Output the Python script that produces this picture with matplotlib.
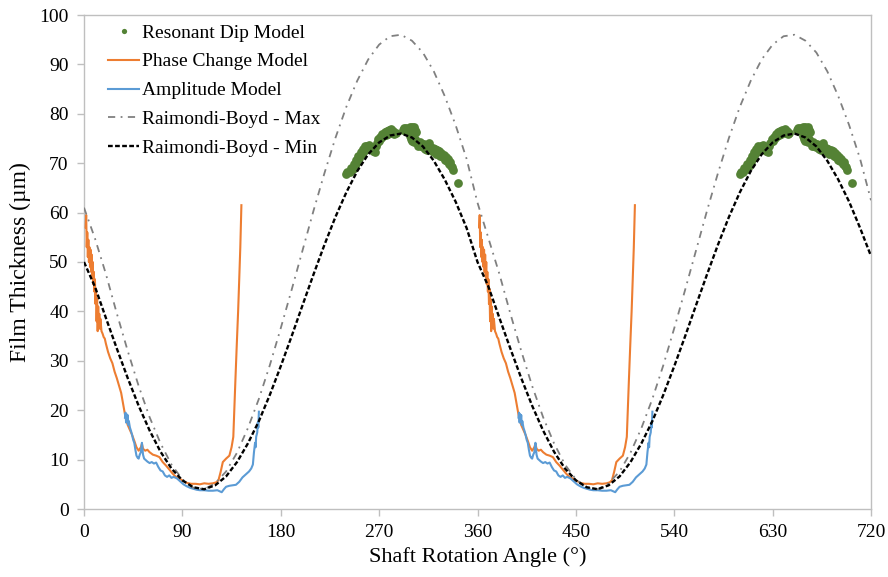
"""
Film thickness over two shaft revolutions: ultrasonic models vs Raimondi-Boyd.
"""

import matplotlib
matplotlib.use("Agg")
import matplotlib.pyplot as plt

plt.rcParams["font.family"] = ["Liberation Serif", "DejaVu Serif"]

# Raimondi-Boyd bounds, read every 10 degrees
rb_angle = list(range(0, 730, 10))
rb_min = [
    50.0, 45.0, 38.7, 32.5, 26.5, 20.9, 15.9, 11.6, 8.2, 5.8, 4.4, 4.0,
    4.8, 6.6, 9.5, 13.3, 17.8, 23.1, 28.9, 35.0, 41.3, 47.5, 53.5, 59.1,
    64.1, 68.4, 71.8, 74.2, 75.6, 76.0, 75.2, 73.4, 70.5, 66.7, 62.2, 56.9,
    50.0, 45.0, 38.7, 32.5, 26.5, 20.9, 15.9, 11.6, 8.2, 5.8, 4.4, 4.0,
    4.8, 6.6, 9.5, 13.3, 17.8, 23.1, 28.9, 35.0, 41.3, 47.5, 53.5, 59.1,
    64.1, 68.4, 71.8, 74.2, 75.6, 76.0, 75.2, 73.4, 70.5, 66.7, 62.2, 56.9,
    51.2,
]
rb_max = [
    61.0, 54.8, 47.6, 39.6, 32.0, 24.9, 18.6, 13.3, 9.0, 6.0, 4.3, 4.0,
    5.2, 7.6, 11.4, 16.4, 22.3, 29.1, 36.6, 44.4, 52.4, 60.4, 68.0, 75.1,
    81.4, 86.7, 91.0, 94.0, 95.7, 96.0, 94.8, 92.4, 88.6, 83.6, 77.7, 70.9,
    62.0, 54.8, 47.6, 39.6, 32.0, 24.9, 18.6, 13.3, 9.0, 6.0, 4.3, 4.0,
    5.2, 7.6, 11.4, 16.4, 22.3, 29.1, 36.6, 44.4, 52.4, 60.4, 68.0, 75.1,
    81.4, 86.7, 91.0, 94.0, 95.7, 96.0, 94.8, 92.4, 88.6, 83.6, 77.7, 70.9,
    62.5,
]

# Phase change model (one revolution, repeated in the second)
phase_angle = [
    1.5, 2.0, 2.5, 3.0, 3.5, 4.0, 4.5, 5.0, 5.5, 6.0, 6.5, 7.0, 7.5, 8.0,
    8.5, 9.0, 9.5, 10.0, 10.5, 11.0, 11.5, 12.0, 12.5, 13.0, 13.5, 14.0,
    14.5, 15.0, 16, 17, 18, 19, 20, 22, 24, 26, 28, 30, 32, 34, 36, 38, 40,
    42, 44, 46, 48, 50, 52, 53, 54, 56, 58, 60, 63, 66, 69, 72, 75, 78, 81,
    84, 87, 90, 94, 98, 102, 106, 110, 114, 118, 121, 123, 125, 127, 130,
    133, 135, 136.6, 137.5, 138.5, 139.7, 141, 142, 143, 144,
]
phase_film = [
    57.0, 59.5, 53.0, 56.0, 51.0, 54.5, 50.0, 53.0, 49.0, 52.5, 48.0, 51.5,
    47.0, 50.0, 45.5, 48.0, 44.0, 46.5, 41.5, 44.5, 38.0, 42.5, 36.0, 41.0,
    37.0, 39.5, 36.5, 38.5, 36.0, 35.5, 34.8, 34.5, 33.5, 31.8, 30.5, 29.5,
    27.8, 26.5, 25.0, 23.5, 21.0, 18.5, 17.0, 16.0, 15.0, 13.8, 12.5, 11.8,
    12.5, 13.2, 12.2, 11.8, 12.0, 11.5, 11.0, 10.8, 10.5, 9.5, 8.8, 8.0,
    7.2, 6.5, 6.2, 5.8, 5.3, 5.1, 5.1, 5.0, 5.2, 5.1, 5.2, 5.4, 5.8, 7.5,
    9.5, 10.2, 10.8, 12.5, 14.6, 20.0, 26.0, 32.9, 40.0, 46.4, 53.0, 61.5,
]

# Amplitude model
amp_angle = [
    37.5, 38.0, 38.5, 39.0, 39.5, 40.0, 40.5, 41, 42, 43, 44, 45, 46, 47,
    48, 49, 50, 51, 52, 53, 54, 55, 56, 58, 60, 62, 64, 66, 68, 70, 72, 74,
    76, 78, 80, 82, 85, 88, 91, 94, 97, 100, 103, 106, 110, 114, 118, 122,
    124, 126, 128, 130, 133, 136, 139, 142, 145, 148, 151, 153, 154.5,
    155.5, 156.5, 157, 157.5, 158.5, 159, 159.5, 160,
]
amp_film = [
    18.5, 19.5, 17.5, 19.2, 17.8, 19.0, 17.0, 17.8, 16.5, 15.8, 15.0, 14.0,
    13.4, 12.0, 10.8, 10.4, 10.2, 11.0, 11.5, 13.4, 11.0, 10.2, 10.0, 9.6,
    9.3, 9.5, 9.2, 9.4, 8.5, 7.8, 7.6, 6.8, 6.5, 6.8, 6.3, 6.5, 6.2, 5.6,
    5.0, 4.6, 4.3, 4.1, 3.9, 3.8, 3.8, 3.7, 3.7, 3.8, 3.6, 3.4, 4.0, 4.5,
    4.7, 4.8, 4.9, 5.5, 6.4, 7.0, 7.6, 8.2, 9.0, 11.5, 13.4, 12.5, 14.6,
    15.5, 17.5, 16.5, 19.7,
]

# Resonant dip model points (one revolution)
dip_angle = [
    240, 241, 243, 244, 246, 247, 248, 249, 250, 251, 252, 253, 254, 255,
    256, 257, 258, 259, 260, 261, 262, 263, 264, 265, 266, 267, 268, 269,
    270, 271, 272, 273, 274, 275, 276, 277, 278, 279, 280, 281, 282, 283,
    284, 285, 292, 293, 294, 295, 296, 297, 298, 299, 300, 301, 302, 303,
    304, 298, 299, 300, 301, 302, 303, 305, 306, 307, 308, 309, 310, 311,
    312, 313, 314, 315, 316, 317, 318, 319, 320, 321, 322, 323, 324, 325,
    326, 327, 328, 329, 330, 331, 332, 333, 334, 335, 336, 337, 338, 342.4,
]
dip_film = [
    67.8, 68.3, 68.2, 69.0, 68.8, 69.8, 69.4, 70.6, 70.2, 71.5, 71.0, 72.3,
    71.8, 72.9, 72.4, 73.4, 72.8, 73.5, 73.1, 73.6, 72.9, 73.3, 72.4, 72.8,
    72.3, 73.4, 74.0, 74.8, 74.5, 75.4, 75.0, 75.9, 75.5, 76.3, 75.8, 76.6,
    76.0, 76.8, 76.3, 76.9, 76.1, 76.6, 75.9, 76.2, 76.8, 77.1, 76.7, 77.2,
    76.6, 77.0, 77.3, 76.9, 77.4, 77.1, 77.3, 76.7, 76.4, 75.6, 74.9, 74.4,
    75.1, 74.2, 74.8, 74.0, 73.5, 74.3, 73.4, 73.9, 73.2, 73.8, 72.9, 73.6,
    72.7, 73.3, 74.0, 73.2, 72.5, 73.1, 72.2, 72.9, 71.9, 72.6, 71.8, 72.4,
    71.4, 72.1, 71.2, 71.7, 70.7, 71.3, 70.4, 70.8, 69.9, 70.2, 69.4, 69.3,
    68.6, 65.9,
]

PERIOD = 360
COLORS = {
    "dip": "#548235",
    "phase": "#ED7D31",
    "amp": "#5B9BD5",
    "rb_max": "#808080",
    "rb_min": "#000000",
}


def shifted(angles, offset):
    return [a + offset for a in angles]


fig = plt.figure(figsize=(8.88, 5.77), dpi=100)
ax = fig.add_axes([84 / 888, 1 - 509 / 577, 787 / 888, 494 / 577])

for rev in range(2):
    off = rev * PERIOD
    ax.plot(shifted(dip_angle, off), dip_film, "o", ms=6.3,
            color=COLORS["dip"], mec="none", zorder=2,
            label="Resonant Dip Model" if rev == 0 else None)
    ax.plot(shifted(phase_angle, off), phase_film,
            color=COLORS["phase"], lw=1.5, zorder=3,
            label="Phase Change Model" if rev == 0 else None)
    ax.plot(shifted(amp_angle, off), amp_film,
            color=COLORS["amp"], lw=1.5, zorder=4,
            label="Amplitude Model" if rev == 0 else None)

ax.plot(rb_angle, rb_max, color=COLORS["rb_max"], lw=1.3,
        linestyle=(0, (4, 3, 1, 3)), zorder=5, label="Raimondi-Boyd - Max")
ax.plot(rb_angle, rb_min, color=COLORS["rb_min"], lw=1.7,
        linestyle=(0, (2, 1)), zorder=6, label="Raimondi-Boyd - Min")

ax.set_xlim(0, 720)
ax.set_ylim(0, 100)
ax.set_xticks(range(0, 721, 90))
ax.set_yticks(range(0, 101, 10))
ax.tick_params(direction="out", length=5, width=1, color="#BFBFBF",
               labelsize=14, pad=6)
for spine in ax.spines.values():
    spine.set_color("#BFBFBF")
    spine.set_linewidth(1)

ax.set_xlabel("Shaft Rotation Angle (°)", fontsize=16, labelpad=4)
ax.set_ylabel("Film Thickness (µm)", fontsize=17, labelpad=6)

ax.legend(loc="upper left", bbox_to_anchor=(108 / 888, 1 - 24 / 577),
          bbox_transform=fig.transFigure, frameon=False, fontsize=14,
          borderpad=0, borderaxespad=0, handlelength=1.6, handletextpad=0.15,
          labelspacing=0.58, markerscale=0.6)

fig.savefig("out.png", dpi=100)
